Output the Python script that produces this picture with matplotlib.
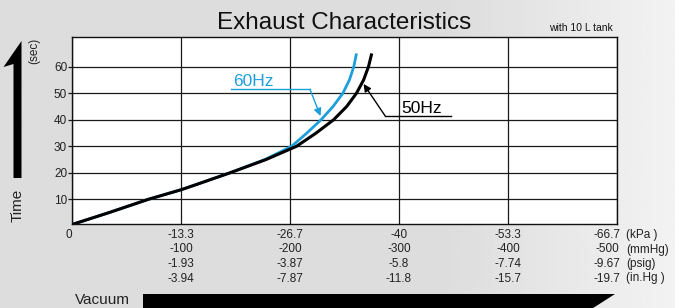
import numpy as np
import matplotlib
matplotlib.use('agg')
import matplotlib.pyplot as plt
from matplotlib.patches import Polygon

plt.rcParams['font.family'] = ['Liberation Sans', 'DejaVu Sans']

# readings: vacuum (mmHg) vs time (sec)
vac_50hz = [0, 34, 70, 100, 110, 145, 178, 206, 224, 240, 252, 261, 267.5, 272, 275]
t_50hz = [0.5, 5, 10, 13.6, 15, 20, 25, 30, 35, 40, 45, 50, 55, 60, 65]
vac_60hz = [0, 34, 70, 100, 110, 145, 177, 201.5, 215.5, 228.5, 239.5, 248.5, 254.5, 258.5, 261]
t_60hz = [0.5, 5, 10, 13.6, 15, 20, 25, 30, 35, 40, 45, 50, 55, 60, 65]

x_ticks = [0, 100, 200, 300, 400, 500]
y_ticks = [10, 20, 30, 40, 50, 60]
kpa = ['0', '-13.3', '-26.7', '-40', '-53.3', '-66.7']
mmhg = ['', '-100', '-200', '-300', '-400', '-500']
psig = ['', '-1.93', '-3.87', '-5.8', '-7.74', '-9.67']
inhg = ['', '-3.94', '-7.87', '-11.8', '-15.7', '-19.7']
units = ['(kPa )', '(mmHg)', '(psig)', '(in.Hg )']

W, H = 675, 308
blue = '#1d9fdb'


def fx(px):
    return px / W


def fy(py):
    return 1 - py / H


fig = plt.figure(figsize=(W / 100, H / 100), dpi=100)

# grey background, lighter towards the right
bg = fig.add_axes([0, 0, 1, 1], zorder=-5)
xs = np.linspace(0, 1, 300)
grad = np.where(xs < 0.66, 0.865, 0.865 + (xs - 0.66) / 0.34 * 0.085)
bg.imshow(np.tile(grad, (10, 1)), cmap='gray', vmin=0, vmax=1, aspect='auto',
          extent=[0, 1, 0, 1])
bg.axis('off')

ax = fig.add_axes([fx(72), fy(224), (617 - 72) / W, (224 - 37) / H])
ax.set_facecolor('white')
ax.set_xlim(0, 500)
ax.set_ylim(0.7, 71.2)
ax.set_xticks(x_ticks)
ax.set_yticks(y_ticks)
ax.grid(color='#1a1a1a', lw=0.9)
ax.set_axisbelow(True)
for s in ax.spines.values():
    s.set_linewidth(1.0)
    s.set_color('#111111')
ax.tick_params(axis='x', length=0, labelbottom=False)
ax.tick_params(axis='y', length=3, width=0.9, color='#1a1a1a', pad=0.5,
               labelsize=8.5, labelcolor='#222222')

ax.plot(vac_60hz, t_60hz, color=blue, lw=2.0, solid_capstyle='butt',
        solid_joinstyle='round', zorder=3)
ax.plot(vac_50hz, t_50hz, color='black', lw=2.2, solid_capstyle='butt',
        solid_joinstyle='round', zorder=4)

# leader lines
ax.plot([145.6, 218.3], [51.5, 51.5], color=blue, lw=1.0, zorder=5)
ax.annotate('', xy=(228, 41.4), xytext=(218.3, 51.5),
            arrowprops=dict(arrowstyle='-|>', color=blue, lw=1.0,
                            mutation_scale=11, shrinkA=0, shrinkB=0), zorder=5)
ax.text(147.7, 52.6, '60Hz', color=blue, fontsize=12.5, va='baseline', ha='left')

ax.plot([287.2, 347.4], [41.5, 41.5], color='black', lw=1.0, zorder=5)
ax.annotate('', xy=(267.5, 53.5), xytext=(287.2, 41.5),
            arrowprops=dict(arrowstyle='-|>', color='black', lw=1.0,
                            mutation_scale=11, shrinkA=0, shrinkB=0), zorder=5)
ax.text(302.5, 42.4, '50Hz', color='black', fontsize=12.5, va='baseline', ha='left')

# x labels, four unit rows
rows = [kpa, mmhg, psig, inhg]
row_y = [235, 249.5, 264, 278.5]
trans = ax.get_xaxis_transform()
for labels, py in zip(rows, row_y):
    for i, (xv, lab) in enumerate(zip(x_ticks, labels)):
        shift = 0
        if i == 0:
            shift = -3.5 / 1.09
        elif i == len(x_ticks) - 1:
            shift = -10 / 1.09
        ax.text(xv + shift, (224 - py) / 187, lab, transform=trans, ha='center',
                va='center', fontsize=8.5, color='#222222', clip_on=False)
for u, py in zip(units, row_y):
    fig.text(fx(626), fy(py), u, ha='left', va='center', fontsize=8.5, color='#222222')

fig.text(fx(344), fy(29.3), 'Exhaust Characteristics', ha='center', va='baseline',
         fontsize=17.5, color='#111111')
fig.text(fx(549), fy(31), 'with 10 L tank', ha='left', va='baseline', fontsize=7.5,
         color='#111111')

fig.text(fx(34), fy(51), '(sec)', rotation=90, ha='center', va='center',
         fontsize=8.5, color='#222222')
fig.text(fx(18), fy(205), 'Time', rotation=90, ha='center', va='center',
         fontsize=11, color='#222222')
fig.text(fx(75), fy(304), 'Vacuum', ha='left', va='baseline', fontsize=11,
         color='#222222')

# big arrows
up = [(13.5, 178), (21.5, 178), (21.5, 41), (3.5, 67), (13.5, 64)]
right = [(143, 294), (615, 294), (590, 310), (143, 310)]
for pts in (up, right):
    fig.patches.append(Polygon([(fx(a), fy(b)) for a, b in pts], closed=True,
                               transform=fig.transFigure, facecolor='black',
                               edgecolor='none'))

fig.savefig('out.png', dpi=100)
